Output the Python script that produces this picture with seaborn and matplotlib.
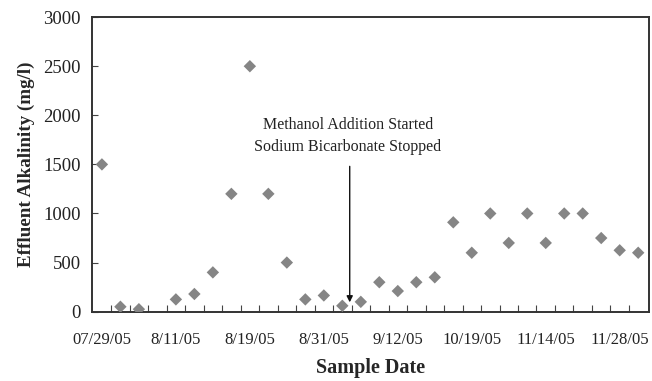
import numpy as np
import pandas as pd
import matplotlib
matplotlib.use("Agg")
import matplotlib.pyplot as plt
from matplotlib.ticker import FixedLocator
import seaborn as sns

# Data (sample index, alkalinity in mg/l; index 3 has no measurement)
sample_index = list(range(30))
alkalinity = [1500, 50, 25, np.nan, 125, 180, 400, 1200, 2500, 1200,
              500, 125, 165, 60, 100, 300, 210, 300, 350, 910,
              600, 1000, 700, 1000, 700, 1000, 1000, 750, 625, 600]
tick_positions = [0, 4, 8, 12, 16, 20, 24, 28]
tick_labels = ["07/29/05", "8/11/05", "8/19/05", "8/31/05",
               "9/12/05", "10/19/05", "11/14/05", "11/28/05"]
y_ticks = [0, 500, 1000, 1500, 2000, 2500, 3000]
annotation_text = "Methanol Addition Started\nSodium Bicarbonate Stopped"

df = pd.DataFrame({"idx": sample_index, "alk": alkalinity}).dropna()

sns.set_style("white")
plt.rcParams["font.family"] = ["Liberation Serif", "DejaVu Serif"]

fig = plt.figure(figsize=(6.52, 3.81), dpi=100)
ax = fig.add_axes([0.141, 0.182, 0.854, 0.773])

sns.scatterplot(data=df, x="idx", y="alk", ax=ax, marker="D", s=40,
                color="#858585", edgecolor="none", linewidth=0, zorder=3)

ax.set_xlim(-0.54, 29.57)
ax.set_ylim(0, 3000)

ax.set_xticks(tick_positions)
ax.set_xticklabels(tick_labels, fontsize=12, color="#222222")
ax.xaxis.set_minor_locator(FixedLocator([i + 0.5 for i in range(29)]))
ax.tick_params(axis="x", which="major", length=0, pad=15)
ax.tick_params(axis="x", which="minor", length=5, width=0.8, direction="in",
               color="#444444", bottom=True)

ax.set_yticks(y_ticks)
ax.set_yticklabels([str(v) for v in y_ticks], fontsize=13.5, color="#222222")
ax.tick_params(axis="y", which="major", length=4, width=0.8, direction="in",
               color="#444444", left=True, pad=8)

for sp in ax.spines.values():
    sp.set_visible(True)
    sp.set_color("#333333")
    sp.set_linewidth(1.4)

ax.set_xlabel("Sample Date", fontsize=14.5, fontweight="bold", labelpad=7)
ax.set_ylabel("Effluent Alkalinity (mg/l)", fontsize=13.7, fontweight="bold",
              labelpad=6)

ax.annotate("", xy=(13.4, 95), xytext=(13.4, 1480),
            arrowprops=dict(arrowstyle="-|>", color="#111111", lw=1.0,
                            mutation_scale=9, shrinkA=0, shrinkB=0))
ax.text(13.3, 1790, annotation_text, ha="center", va="center", fontsize=11.5,
        color="#222222", linespacing=1.45)

fig.savefig("out.png", dpi=100)
